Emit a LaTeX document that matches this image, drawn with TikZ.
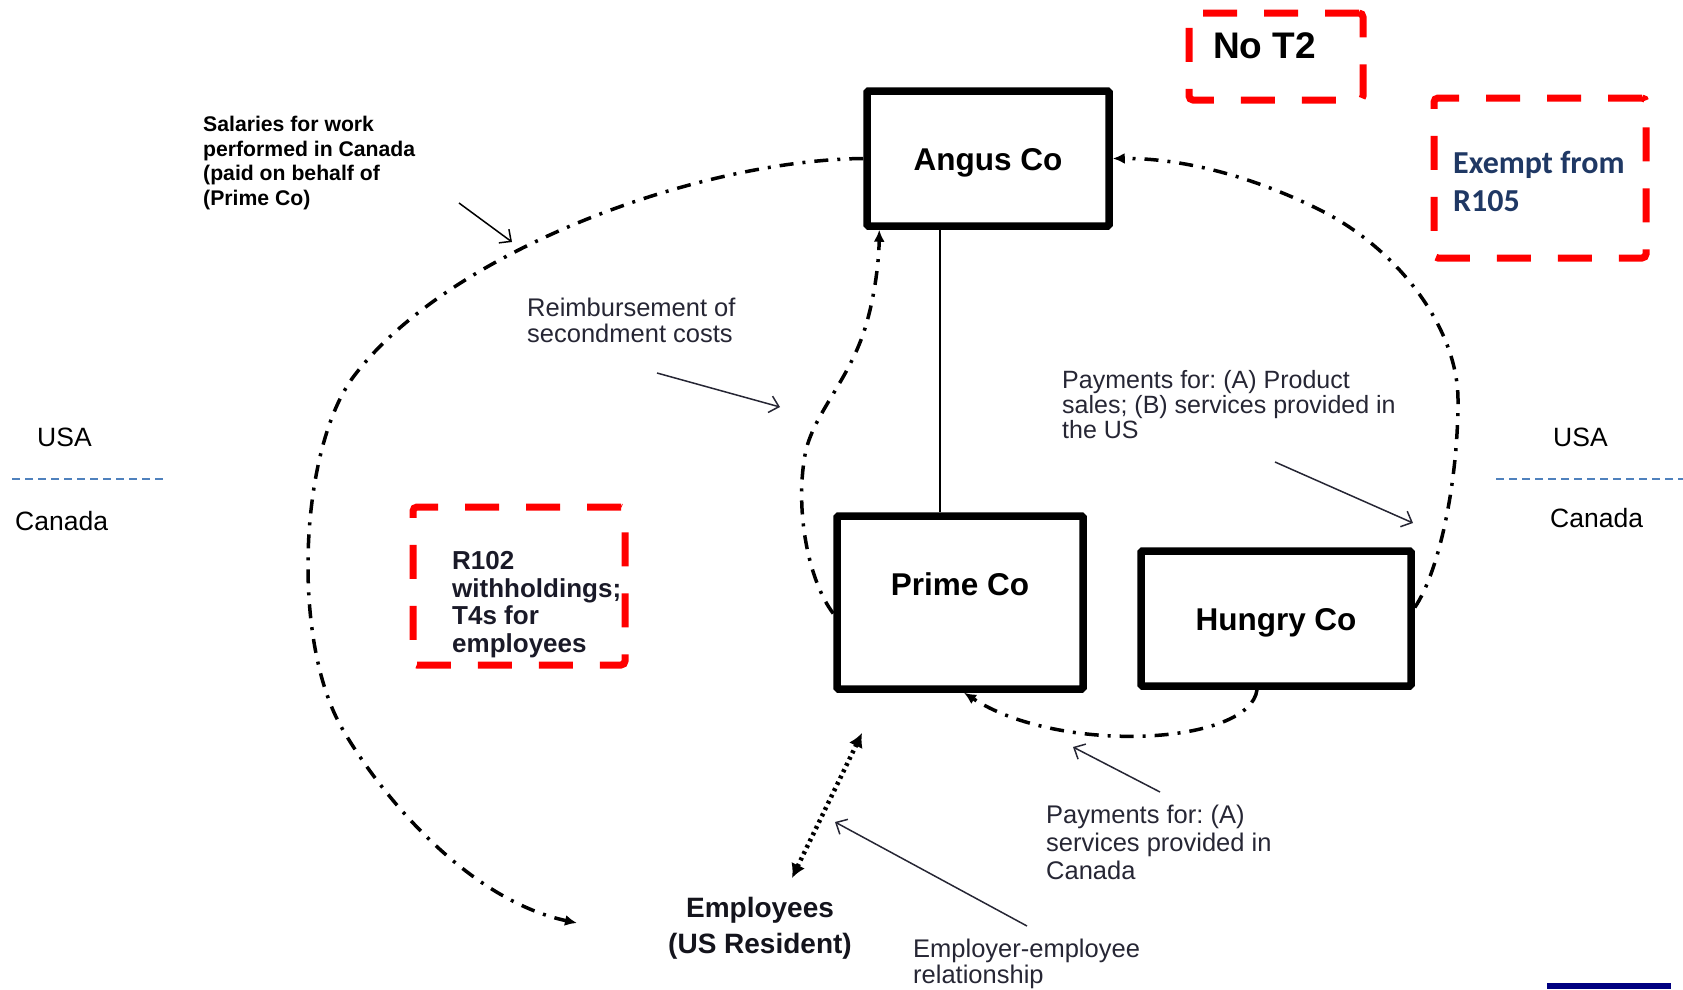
\documentclass[tikz,border=0pt]{standalone}
\usepackage{fontspec}
\setmainfont{Liberation Sans}
\newfontfamily\carlito{Carlito}
\usetikzlibrary{arrows.meta}
\frenchspacing
\definecolor{labelink}{RGB}{38,38,52}
\definecolor{alertred}{RGB}{255,0,0}
\definecolor{exemptblue}{RGB}{31,56,100}
\definecolor{borderblue}{RGB}{79,129,189}
\definecolor{barnavy}{RGB}{0,0,128}
\tikzset{
  entity/.style={draw, line width=7.5pt, rounded corners=1.5pt, inner sep=0pt,
    text height=23pt, text depth=0pt, font=\fontsize{31.5}{34}\selectfont\bfseries},
  redbox/.style={draw=alertred, line width=7pt, dash pattern=on 34pt off 27pt,
    rounded corners=4pt, inner sep=0pt},
  flow/.style={line width=3.5pt, dash pattern=on 14pt off 9pt on 3pt off 9pt,
    -{Latex[length=12pt,width=11pt]}},
  pointer/.style={line width=1.5pt, draw=labelink,
    -{Straight Barb[length=9pt,width=17pt,line width=1.5pt]}},
  note/.style={inner sep=0pt, anchor=north west, align=left, text=labelink,
    font=\fontsize{25.5}{26}\selectfont},
  country/.style={inner sep=0pt, anchor=north west, font=\fontsize{26.5}{28}\selectfont},
  borderline/.style={draw=borderblue, line width=2pt, dash pattern=on 8pt off 5pt},
}
\begin{document}
\begin{tikzpicture}[x=1pt, y=-1pt]
\useasboundingbox (0,0) rectangle (1683,989);

% companies
\node[entity, minimum width=242pt, minimum height=135pt] (angus) at (988,158.5) {Angus Co};
\node[entity, minimum width=246pt, minimum height=173pt, text depth=38pt] (prime) at (960,602.5) {Prime Co};
\node[entity, minimum width=270pt, minimum height=135pt] (hungry) at (1276,618.5) {Hungry Co};

% ownership link
\draw[line width=1.5pt] ([xshift=-48pt]angus.south) -- ([xshift=-20pt]prime.north);

% red notes
\node[redbox, minimum width=174pt, minimum height=87pt] (not2) at (1276,56.5) {};
\node[inner sep=0pt, anchor=north west, font=\fontsize{37}{40}\selectfont\bfseries] (not2text) at (1213,32) {No T2};

\node[redbox, minimum width=212pt, minimum height=160pt] (exempt) at (1540,178) {};
\node[inner sep=0pt, anchor=north west, align=left, text=exemptblue,
      font=\carlito\fontsize{32}{38}\selectfont\bfseries] (exempttext) at (1453,151) {Exempt from\\R105};

\node[redbox, minimum width=212pt, minimum height=158pt] (r102) at (519,586) {};
\node[inner sep=0pt, anchor=north west, align=left, text={rgb,255:red,26;green,26;blue,40},
      font=\fontsize{26}{27.7}\selectfont\bfseries] (r102text) at (452,551) {R102\\withholdings;\\T4s for\\employees};

% employees
\node[inner sep=0pt, anchor=north, align=center, text={rgb,255:red,20;green,20;blue,28},
      font=\fontsize{28}{36}\selectfont\bfseries] (employees) at (760,897) {Employees\\(US Resident)};

% labels
\node[inner sep=0pt, anchor=north west, align=left,
      font=\fontsize{21.2}{24.7}\selectfont\bfseries] (salaries) at (203,116)
      {Salaries for work\\performed in Canada\\(paid on behalf of\\(Prime Co)};
\node[note] (reimb) at (527,298) {Reimbursement of\\secondment costs};
\node[note, font=\fontsize{25}{25}\selectfont] (payab) at (1062,370) {Payments for: (A) Product\\sales; (B) services provided in\\the US};
\node[note, font=\fontsize{25.5}{28}\selectfont] (paya) at (1046,805) {Payments for: (A)\\services provided in\\Canada};
\node[note] (employer) at (913,939) {Employer-employee\\relationship};

% border between countries
\node[country] (usaL) at (37,428) {USA};
\node[country] (canL) at (15,511) {Canada};
\node[country] (usaR) at (1553,428) {USA};
\node[country] (canR) at (1550,508) {Canada};
\coordinate (borderLa) at (12,479);
\coordinate (borderLb) at (167,479);
\coordinate (borderRa) at (1496,479);
\coordinate (borderRb) at (1683,479);
\draw[borderline] (borderLa) -- (borderLb);
\draw[borderline] (borderRa) -- (borderRb);

% payment flows
\coordinate (salend) at (577,923);
\draw[flow] (angus.west) .. controls (700,160) and (450,250) .. (354,376)
  .. controls (300,447) and (290,640) .. (343,730)
  .. controls (384,800) and (470,900) .. (salend);
\draw[flow] ([yshift=-11pt]prime.west) .. controls (808,580) and (795,510) .. (805,455)
  .. controls (812,415) and (850,380) .. (866,325)
  .. controls (875,295) and (879,260) .. ([xshift=16pt]angus.south west);
\draw[flow] ([yshift=11pt]hungry.east) .. controls (1440,570) and (1458,480) .. (1458,400)
  .. controls (1458,330) and (1400,250) .. (1320,210)
  .. controls (1250,175) and (1180,158) .. (angus.east);
\draw[flow] ([xshift=-19pt]hungry.south) .. controls (1250,745) and (1060,755) .. ([xshift=4pt]prime.south);

% employment relationship
\coordinate (empdot) at (792,878);
\coordinate (primedot) at (862,733);
\draw[line width=4.5pt, dash pattern=on 3pt off 4pt,
      {Latex[length=14pt,width=15pt]}-{Latex[length=14pt,width=15pt]}] (empdot) -- (primedot);

% label pointers
\coordinate (salptA) at (459,203);  \coordinate (salptB) at (512,242);
\coordinate (reimbptA) at (657,373); \coordinate (reimbptB) at (780,407);
\coordinate (payabptA) at (1275,462); \coordinate (payabptB) at (1413,523);
\coordinate (payaptA) at (1160,792); \coordinate (payaptB) at (1073,747);
\coordinate (emplptA) at (1027,926); \coordinate (emplptB) at (835,822);
\draw[pointer, draw=black] (salptA) -- (salptB);
\draw[pointer] (reimbptA) -- (reimbptB);
\draw[pointer] (payabptA) -- (payabptB);
\draw[pointer] (payaptA) -- (payaptB);
\draw[pointer] (emplptA) -- (emplptB);

% corner bar
\fill[barnavy] (1547,983) rectangle (1671,989);
\end{tikzpicture}
\end{document}
